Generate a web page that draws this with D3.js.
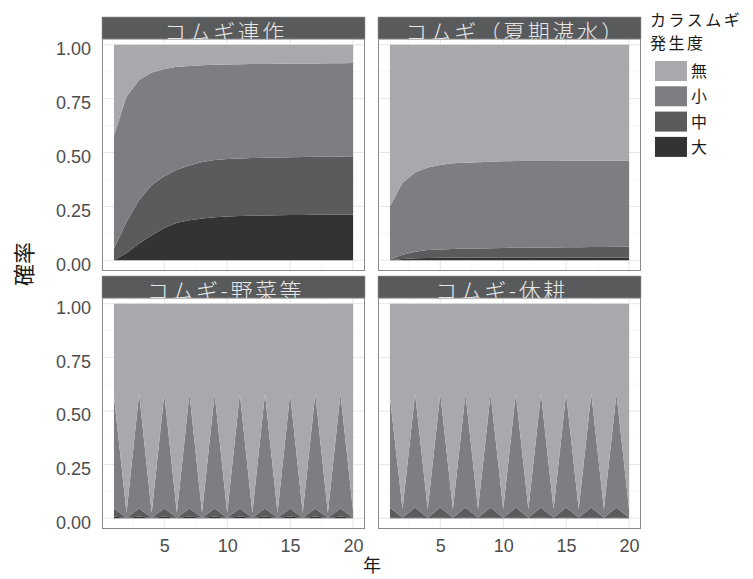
<!DOCTYPE html>
<html>
<head>
<meta charset="utf-8">
<script src="https://cdn.jsdelivr.net/npm/d3@7"></script>
<style>
  body { margin: 0; background: #fff; }
  svg { display: block; }
</style>
</head>
<body>
<div id="chart"></div>
<script>
// years on the x axis
var years = [1, 2, 3, 4, 5, 6, 7, 8, 9, 10, 11, 12, 13, 14, 15, 16, 17, 18, 19, 20];
var xTicks = [5, 10, 15, 20];
var yTicks = [0, 0.25, 0.5, 0.75, 1];

// legend order (top to bottom) and stack order (bottom to top)
var categories = ["無", "小", "中", "大"];
var stackKeys = ["大", "中", "小", "無"];
var facets = ["コムギ連作", "コムギ（夏期湛水）", "コムギ-野菜等", "コムギ-休耕"];

// コムギ連作
var rensakuDai = [0, 0.034, 0.078, 0.116, 0.15, 0.174, 0.186, 0.194, 0.2, 0.203, 0.205, 0.207, 0.208, 0.209, 0.21, 0.21, 0.211, 0.211, 0.212, 0.212];
var rensakuChu = [0.054, 0.144, 0.201, 0.233, 0.24, 0.246, 0.254, 0.262, 0.265, 0.267, 0.267, 0.267, 0.268, 0.268, 0.268, 0.269, 0.269, 0.27, 0.27, 0.271];
var rensakuSho = [0.526, 0.582, 0.558, 0.522, 0.498, 0.478, 0.462, 0.449, 0.442, 0.439, 0.438, 0.437, 0.435, 0.435, 0.434, 0.434, 0.433, 0.433, 0.432, 0.432];
var rensakuMu  = [0.42, 0.24, 0.163, 0.129, 0.112, 0.102, 0.098, 0.095, 0.093, 0.091, 0.09, 0.089, 0.089, 0.088, 0.088, 0.087, 0.087, 0.086, 0.086, 0.085];

// コムギ（夏期湛水）
var tansuiDai = [0, 0.006, 0.009, 0.01, 0.011, 0.011, 0.012, 0.012, 0.012, 0.012, 0.012, 0.012, 0.012, 0.012, 0.012, 0.012, 0.012, 0.012, 0.012, 0.012];
var tansuiChu = [0.003, 0.02, 0.03, 0.037, 0.039, 0.041, 0.042, 0.043, 0.044, 0.045, 0.046, 0.046, 0.047, 0.047, 0.048, 0.048, 0.049, 0.049, 0.05, 0.05];
var tansuiSho = [0.247, 0.334, 0.368, 0.383, 0.392, 0.398, 0.398, 0.4, 0.401, 0.402, 0.402, 0.402, 0.402, 0.402, 0.402, 0.402, 0.401, 0.402, 0.401, 0.401];
var tansuiMu  = [0.75, 0.64, 0.593, 0.57, 0.558, 0.55, 0.548, 0.545, 0.543, 0.541, 0.54, 0.54, 0.539, 0.539, 0.538, 0.538, 0.538, 0.537, 0.537, 0.537];

// コムギ-野菜等
var yasaiDai = [0.008, 0.001, 0.008, 0.001, 0.008, 0.001, 0.008, 0.001, 0.008, 0.001, 0.008, 0.001, 0.008, 0.001, 0.008, 0.001, 0.008, 0.001, 0.008, 0.001];
var yasaiChu = [0.037, 0.002, 0.037, 0.002, 0.037, 0.002, 0.037, 0.002, 0.037, 0.002, 0.037, 0.002, 0.037, 0.002, 0.037, 0.002, 0.037, 0.002, 0.037, 0.002];
var yasaiSho = [0.525, 0.022, 0.535, 0.022, 0.535, 0.022, 0.535, 0.022, 0.535, 0.022, 0.535, 0.022, 0.535, 0.022, 0.535, 0.022, 0.535, 0.022, 0.535, 0.032];
var yasaiMu  = [0.43, 0.975, 0.42, 0.975, 0.42, 0.975, 0.42, 0.975, 0.42, 0.975, 0.42, 0.975, 0.42, 0.975, 0.42, 0.975, 0.42, 0.975, 0.42, 0.965];

// コムギ-休耕
var kyukoDai = [0.003, 0.001, 0.003, 0.001, 0.003, 0.001, 0.003, 0.001, 0.003, 0.001, 0.003, 0.001, 0.003, 0.001, 0.003, 0.001, 0.003, 0.001, 0.003, 0.001];
var kyukoChu = [0.047, 0.001, 0.047, 0.001, 0.047, 0.001, 0.047, 0.001, 0.047, 0.001, 0.047, 0.001, 0.047, 0.001, 0.047, 0.001, 0.047, 0.001, 0.047, 0.001];
var kyukoSho = [0.513, 0.04, 0.53, 0.04, 0.53, 0.04, 0.53, 0.04, 0.53, 0.04, 0.53, 0.04, 0.53, 0.04, 0.53, 0.04, 0.53, 0.04, 0.53, 0.04];
var kyukoMu  = [0.437, 0.958, 0.42, 0.958, 0.42, 0.958, 0.42, 0.958, 0.42, 0.958, 0.42, 0.958, 0.42, 0.958, 0.42, 0.958, 0.42, 0.958, 0.42, 0.958];

var series = [
    [rensakuDai, rensakuChu, rensakuSho, rensakuMu],
    [tansuiDai, tansuiChu, tansuiSho, tansuiMu],
    [yasaiDai, yasaiChu, yasaiSho, yasaiMu],
    [kyukoDai, kyukoChu, kyukoSho, kyukoMu]
];

var color = {
    "無": "#a8a9ad",
    "小": "#7d7e81",
    "中": "#595b5d",
    "大": "#333333"
};

var W = 753, H = 579;
var colLeft = [102, 378], colW = 263;
var stripTop = [17, 276], stripH = 22;
var panelBottom = [271, 529];
// offsets to place strip titles like the original
var titleShift = [-8, 6, -8, -8];

var svg = d3.select("#chart").append("svg")
    .attr("width", W)
    .attr("height", H);

var defs = svg.append("defs");
var stack = d3.stack().keys(stackKeys);

facets.forEach(function(name, i) {
    var c = i % 2, r = Math.floor(i / 2);
    var left = colLeft[c], right = colLeft[c] + colW;
    var sTop = stripTop[r], pTop = sTop + stripH, bottom = panelBottom[r];

    // build table for this facet
    var rows = years.map(function(yr, j) {
        var row = {year: yr};
        stackKeys.forEach(function(k, ki) { row[k] = series[i][ki][j]; });
        return row;
    });
    var layers = stack(rows);

    // ggplot style expansion of 5%
    var x = d3.scaleLinear().domain([0.05, 20.95]).range([left, right]);
    var y = d3.scaleLinear().domain([-0.05, 1.05]).range([bottom, sTop + 17]);

    var g = svg.append("g").attr("class", "panel");

    defs.append("clipPath").attr("id", "clip" + i)
        .append("rect")
        .attr("x", left).attr("y", pTop)
        .attr("width", colW).attr("height", bottom - pTop);

    g.append("rect")
        .attr("x", left).attr("y", pTop)
        .attr("width", colW).attr("height", bottom - pTop)
        .attr("fill", "#fff");

    var grid = g.append("g").attr("clip-path", "url(#clip" + i + ")");
    var xMinor = [2.5, 7.5, 12.5, 17.5];
    var yMinor = [0.125, 0.375, 0.625, 0.875];
    grid.selectAll(".xminor").data(xMinor).enter().append("line")
        .attr("x1", function(d) { return x(d); }).attr("x2", function(d) { return x(d); })
        .attr("y1", pTop).attr("y2", bottom)
        .attr("stroke", "#f2f2f2").attr("stroke-width", 0.6);
    grid.selectAll(".yminor").data(yMinor).enter().append("line")
        .attr("y1", function(d) { return y(d); }).attr("y2", function(d) { return y(d); })
        .attr("x1", left).attr("x2", right)
        .attr("stroke", "#f2f2f2").attr("stroke-width", 0.6);
    grid.selectAll(".xmajor").data(xTicks).enter().append("line")
        .attr("x1", function(d) { return x(d); }).attr("x2", function(d) { return x(d); })
        .attr("y1", pTop).attr("y2", bottom)
        .attr("stroke", "#e6e6e6").attr("stroke-width", 1);
    grid.selectAll(".ymajor").data(yTicks).enter().append("line")
        .attr("y1", function(d) { return y(d); }).attr("y2", function(d) { return y(d); })
        .attr("x1", left).attr("x2", right)
        .attr("stroke", "#e6e6e6").attr("stroke-width", 1);

    var area = d3.area()
        .x(function(d) { return x(d.data.year); })
        .y0(function(d) { return y(d[0]); })
        .y1(function(d) { return y(d[1]); });

    g.append("g").attr("clip-path", "url(#clip" + i + ")")
        .selectAll("path")
        .data(layers)
        .enter().append("path")
        .attr("d", area)
        .attr("fill", function(d) { return color[d.key]; });

    // panel border
    g.append("rect")
        .attr("x", left + 0.5).attr("y", pTop)
        .attr("width", colW - 1).attr("height", bottom - pTop - 0.5)
        .attr("fill", "none")
        .attr("stroke", "#8a8a8a")
        .attr("stroke-width", 1);

    // strip
    g.append("rect")
        .attr("x", left).attr("y", sTop)
        .attr("width", colW).attr("height", stripH)
        .attr("fill", "#585a5c")
        .attr("stroke", "#9a9a9a")
        .attr("stroke-width", 0.6);

    defs.append("clipPath").attr("id", "sclip" + i)
        .append("rect")
        .attr("x", left).attr("y", sTop)
        .attr("width", colW).attr("height", stripH);

    g.append("text")
        .attr("clip-path", "url(#sclip" + i + ")")
        .attr("x", (left + right) / 2 + titleShift[i])
        .attr("y", sTop + 23)
        .attr("text-anchor", "middle")
        .attr("font-family", "'Noto Sans CJK JP', sans-serif")
        .attr("font-size", 22)
        .attr("font-weight", 300)
        .attr("letter-spacing", 2.5)
        .attr("fill", "#e6e6e6")
        .text(name);

    // axes only on outer panels
    if (c === 0) {
        var ya = g.append("g")
            .attr("transform", "translate(" + left + ",0)")
            .call(d3.axisLeft(y).tickValues(yTicks).tickFormat(d3.format(".2f")).tickSize(0).tickPadding(11));
        ya.select(".domain").remove();
        ya.selectAll("text")
            .attr("dy", "0.55em")
            .attr("fill", "#4d4d4d")
            .attr("font-size", 18)
            .attr("font-family", "'Liberation Sans', Arial, sans-serif");
    }
    if (r === 1) {
        var xa = g.append("g")
            .attr("transform", "translate(0," + bottom + ")")
            .call(d3.axisBottom(x).tickValues(xTicks).tickSize(0).tickPadding(10));
        xa.select(".domain").remove();
        xa.selectAll("text")
            .attr("fill", "#4d4d4d")
            .attr("font-size", 18)
            .attr("font-family", "'Liberation Sans', Arial, sans-serif");
    }
});

// axis titles
svg.append("text")
    .attr("transform", "translate(32,264) rotate(-90)")
    .attr("text-anchor", "middle")
    .attr("font-family", "'Noto Sans CJK JP', sans-serif")
    .attr("font-size", 22)
    .attr("fill", "#1a1a1a")
    .text("確率");

svg.append("text")
    .attr("x", 372)
    .attr("y", 572)
    .attr("text-anchor", "middle")
    .attr("font-family", "'Noto Sans CJK JP', sans-serif")
    .attr("font-size", 18)
    .attr("fill", "#1a1a1a")
    .text("年");

// legend
var legend = svg.append("g")
    .attr("font-family", "'Noto Sans CJK JP', sans-serif");

legend.selectAll(".title")
    .data(["カラスムギ", "発生度"])
    .enter().append("text")
    .attr("x", 650)
    .attr("y", function(d, i) { return 26 + i * 23; })
    .attr("font-size", 16)
    .attr("letter-spacing", 2.5)
    .attr("fill", "#1a1a1a")
    .text(function(d) { return d; });

var item = legend.selectAll(".item")
    .data(categories)
    .enter().append("g")
    .attr("transform", function(d, i) { return "translate(655," + (61 + i * 25.3) + ")"; });

item.append("rect")
    .attr("width", 32)
    .attr("height", 20)
    .attr("fill", function(d) { return color[d]; });

item.append("text")
    .attr("x", 36)
    .attr("y", 16)
    .attr("font-size", 16)
    .attr("fill", "#1a1a1a")
    .text(function(d) { return d; });
</script>
</body>
</html>
